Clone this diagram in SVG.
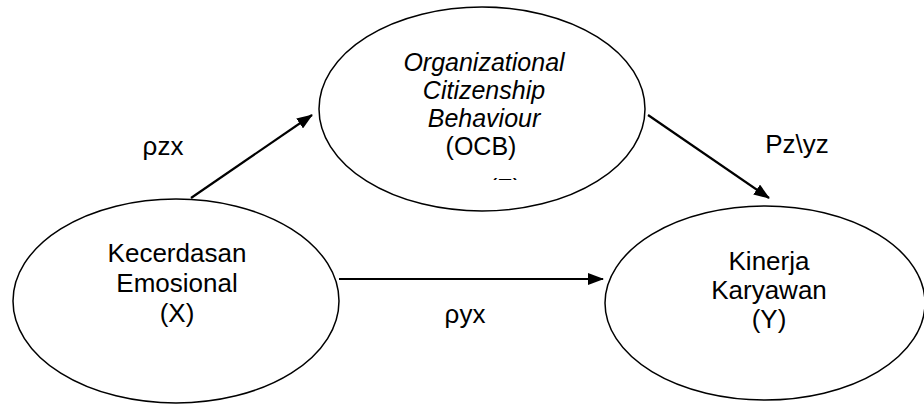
<svg xmlns="http://www.w3.org/2000/svg" width="924" height="410" viewBox="0 0 924 410">
  <style>
    .node { fill: #ffffff; stroke: #000000; stroke-width: 1.5; }
    .lbl { font-family: "Liberation Sans", Arial, sans-serif; font-size: 26px; fill: #000000; text-anchor: middle; }
    .ocb { font-size: 25px; }
    .it { font-style: italic; }
    .edge { stroke: #000000; stroke-width: 2.2; fill: none; marker-end: url(#arrow); }
  </style>
  <defs>
    <marker id="arrow" viewBox="0 0 16 12" refX="15" refY="6" markerWidth="16" markerHeight="12" markerUnits="userSpaceOnUse" orient="auto">
      <path d="M0,0 L16,6 L0,12 Z" fill="#000000"/>
    </marker>
    <clipPath id="ocbClip">
      <rect x="300" y="0" width="360" height="180"/>
    </clipPath>
  </defs>

  <g id="node-ocb">
    <ellipse class="node" cx="482" cy="109" rx="163" ry="102"/>
    <text class="lbl ocb it" x="484" y="71">Organizational</text>
    <text class="lbl ocb it" x="484" y="99">Citizenship</text>
    <text class="lbl ocb it" x="484" y="127">Behaviour</text>
    <text class="lbl ocb" x="481" y="155">(OCB)</text>
    <text class="lbl ocb" x="505" y="197" clip-path="url(#ocbClip)">(Z)</text>
  </g>

  <g id="node-x">
    <ellipse class="node" cx="176" cy="301" rx="163" ry="102"/>
    <text class="lbl" x="177" y="262">Kecerdasan</text>
    <text class="lbl" x="177" y="292">Emosional</text>
    <text class="lbl" x="177" y="322">(X)</text>
  </g>

  <g id="node-y">
    <ellipse class="node" cx="765" cy="303" rx="160" ry="97"/>
    <text class="lbl" x="769" y="270">Kinerja</text>
    <text class="lbl" x="769" y="299">Karyawan</text>
    <text class="lbl" x="769" y="328">(Y)</text>
  </g>

  <g id="connectors">
    <line class="edge" x1="191" y1="198" x2="312" y2="115"/>
    <line class="edge" x1="648" y1="115" x2="769" y2="198"/>
    <line class="edge" x1="339" y1="279" x2="603" y2="279"/>
    <text class="lbl" x="163" y="155">ρzx</text>
    <text class="lbl" x="797" y="153">Pz\yz</text>
    <text class="lbl" x="465" y="323">ρyx</text>
  </g>
</svg>
